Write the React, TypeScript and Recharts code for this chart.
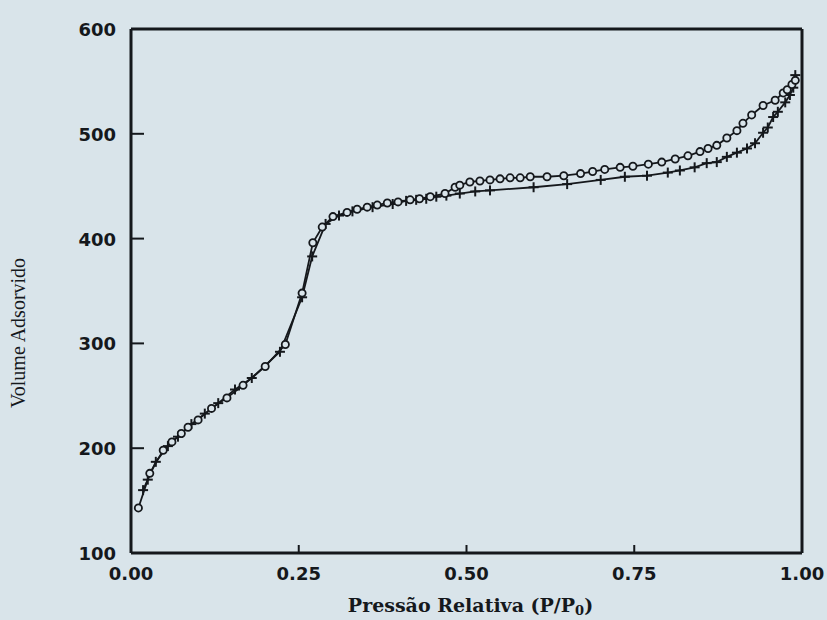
import { ScatterChart, Scatter, XAxis, YAxis, ReferenceLine } from "recharts";

const xTicks = [0, 0.25, 0.5, 0.75, 1];
const yTicks = [100, 200, 300, 400, 500, 600];

// open circles
const circleX = [
  0.011, 0.028, 0.048, 0.061, 0.075, 0.085, 0.1, 0.12, 0.143, 0.167,
  0.2, 0.23, 0.255, 0.271, 0.285, 0.301, 0.322, 0.337, 0.352, 0.367,
  0.382, 0.398, 0.416, 0.43, 0.446, 0.468, 0.483, 0.49, 0.505, 0.52,
  0.535, 0.55, 0.565, 0.58, 0.595, 0.62, 0.645, 0.67, 0.688, 0.706,
  0.729, 0.748, 0.771, 0.791, 0.811, 0.83, 0.848, 0.86, 0.873, 0.888,
  0.903, 0.912, 0.925, 0.942, 0.96, 0.972, 0.978, 0.985, 0.99,
];
const circleY = [
  143, 176, 198, 206, 214, 220, 227, 238, 248, 260,
  278, 299, 348, 396, 411, 421, 425, 428, 430, 432,
  434, 435, 437, 438, 440, 443, 449, 451, 454, 455,
  456, 457, 458, 458, 459, 459, 460, 462, 464, 466,
  468, 469, 471, 473, 476, 479, 483, 486, 489, 496,
  503, 510, 518, 527, 532, 539, 542, 547, 551,
];

// plus markers
const plusX = [
  0.018, 0.025, 0.037, 0.055, 0.07, 0.09, 0.11, 0.13, 0.155, 0.18,
  0.222, 0.255, 0.27, 0.29, 0.31, 0.33, 0.36, 0.39, 0.41, 0.425,
  0.44, 0.455, 0.47, 0.49, 0.513, 0.535, 0.6, 0.65, 0.7, 0.736,
  0.769, 0.8, 0.818, 0.84, 0.858, 0.873, 0.888, 0.903, 0.918, 0.93,
  0.942, 0.949, 0.957, 0.964, 0.975, 0.982, 0.987, 0.99,
];
const plusY = [
  160, 170, 187, 202, 211, 223, 233, 243, 256, 267,
  292, 344, 383, 414, 422, 426, 430, 433, 436, 437,
  438, 440, 441, 443, 445, 446, 449, 452, 456, 459,
  460, 463, 465, 468, 472, 473, 478, 482, 486, 491,
  501, 506, 516, 521, 530, 537, 544, 556,
];

const circles = circleX.map((x, i) => ({ x, y: circleY[i] }));
const pluses = plusX.map((x, i) => ({ x, y: plusY[i] }));

const INK = "#15181c";
const BG = "#d9e4ea";
const tickFont = { fontFamily: "DejaVu Sans", fontWeight: 700, fontSize: 18, fill: INK };

function XTick({ x, y, payload }: any) {
  const v = payload.value;
  return (
    <g>
      {v > 0 && v < 1 && (
        <line x1={x} x2={x} y1={y} y2={y - 8} stroke={INK} strokeWidth={2} />
      )}
      <text x={x} y={y + 27} textAnchor="middle" {...tickFont}>
        {v.toFixed(2)}
      </text>
    </g>
  );
}

function YTick({ x, y, payload }: any) {
  const v = payload.value;
  return (
    <g>
      {v > 100 && v < 600 && (
        <line x1={x} x2={x + 13} y1={y} y2={y} stroke={INK} strokeWidth={2} />
      )}
      <text x={x - 15} y={y + 7} textAnchor="end" {...tickFont}>
        {v}
      </text>
    </g>
  );
}

const Circle = ({ cx, cy }: any) => (
  <circle cx={cx} cy={cy} r={3.6} fill={BG} stroke={INK} strokeWidth={1.8} />
);

const Plus = ({ cx, cy }: any) => (
  <g stroke={INK} strokeWidth={2}>
    <line x1={cx - 5} x2={cx + 5} y1={cy} y2={cy} />
    <line x1={cx} x2={cx} y1={cy - 5} y2={cy + 5} />
  </g>
);

const YLabel = ({ viewBox }: any) => {
  const cx = viewBox.x - 53;
  const cy = viewBox.y + viewBox.height / 2 + 42;
  return (
    <text
      x={cx}
      y={cy}
      transform={`rotate(-90 ${cx} ${cy})`}
      textAnchor="middle"
      dominantBaseline="central"
      fontFamily="Liberation Serif"
      fontSize={20}
      fill={INK}
    >
      Volume Adsorvido
    </text>
  );
};

const XLabel = ({ viewBox }: any) => {
  const cx = viewBox.x + viewBox.width / 2 + 4;
  const by = viewBox.y + 59;
  return (
    <text
      x={cx}
      y={by}
      textAnchor="middle"
      fontFamily="DejaVu Serif"
      fontWeight={700}
      fontSize={19}
      fill={INK}
    >
      Pressão Relativa (P/P
      <tspan fontSize={13} dy={3}>0</tspan>
      <tspan dy={-3}>)</tspan>
    </text>
  );
};

export default function App() {
  return (
    <div style={{ position: "absolute", left: 0, top: 0, width: 827, height: 620, background: BG }}>
      <ScatterChart
        width={827}
        height={620}
        margin={{ top: 29, right: 25, bottom: 37, left: 71 }}
      >
        <XAxis
          type="number"
          dataKey="x"
          domain={[0, 1]}
          ticks={xTicks}
          tickSize={0}
          tickMargin={0}
          tickLine={false}
          axisLine={{ stroke: INK, strokeWidth: 3 }}
          tick={<XTick />}
          height={30}
          label={<XLabel />}
        />
        <YAxis
          type="number"
          dataKey="y"
          domain={[100, 600]}
          ticks={yTicks}
          tickSize={0}
          tickMargin={0}
          tickLine={false}
          axisLine={{ stroke: INK, strokeWidth: 3 }}
          tick={<YTick />}
          width={60}
          label={<YLabel />}
        />
        <ReferenceLine y={600} stroke={INK} strokeWidth={3} />
        <ReferenceLine x={1} stroke={INK} strokeWidth={3} />
        <Scatter
          data={pluses}
          line={{ stroke: INK, strokeWidth: 1.8 }}
          shape={<Plus />}
          isAnimationActive={false}
        />
        <Scatter
          data={circles}
          line={{ stroke: INK, strokeWidth: 1.8 }}
          shape={<Circle />}
          isAnimationActive={false}
        />
      </ScatterChart>
    </div>
  );
}
